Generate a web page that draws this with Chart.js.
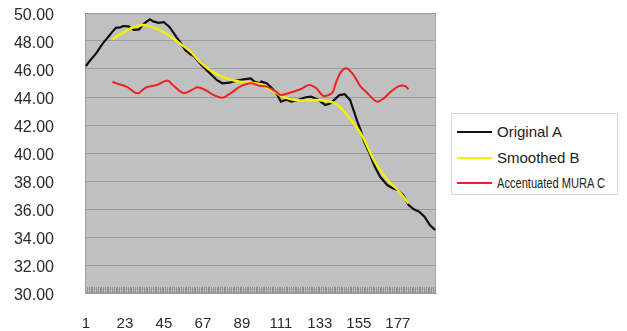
<!DOCTYPE html>
<html>
<head>
<meta charset="utf-8">
<script src="https://cdn.jsdelivr.net/npm/chart.js@4.4.1/dist/chart.umd.min.js"></script>
<style>
  body { margin: 0; background: #fff; }
  #wrap { position: relative; width: 627px; height: 331px; }
  #legend {
    position: absolute; left: 451px; top: 113px; width: 165px; height: 80px;
    border: 1px solid #d6d6d6; background: #fff;
    font-family: "Liberation Sans", Arial, sans-serif; color: #222;
  }
  .row { position: absolute; left: 0; width: 165px; height: 20px; white-space: nowrap; }
  .swatch { position: absolute; left: 5px; top: 9px; width: 35px; height: 2px; }
  .txt { position: absolute; left: 45px; top: 0; font-size: 15px; line-height: 20px; transform-origin: 0 50%; }
</style>
</head>
<body>
<div id="wrap">
  <canvas id="myChart" width="627" height="331"></canvas>
  <div id="legend"></div>
</div>
<script>
// x tick labels shown under the axis
const xLabels = [1, 23, 45, 67, 89, 111, 133, 155, 177];
const xCount = 198;

// Original A (category, value)
const originalX = [1, 3, 5, 7, 9, 11, 13, 16, 18, 20, 22, 25, 28, 31, 34, 37, 39, 42, 45, 48,
  50, 52, 54, 57, 60, 62, 64, 66, 68, 71, 75, 78, 82, 86, 90, 94, 96, 99, 100, 103,
  106, 109, 111, 114, 117, 121, 125, 128, 132, 136, 139, 142, 144, 147, 150, 152, 154, 156, 158, 161,
  164, 167, 171, 174, 177, 180, 183, 186, 189, 192, 195, 198];
const originalY = [46.2, 46.55, 46.85, 47.15, 47.55, 47.9, 48.2, 48.67, 48.95, 48.95, 49.07, 49.05, 48.8, 48.83, 49.26, 49.55, 49.4, 49.3, 49.35, 49.02,
  48.67, 48.3, 47.95, 47.36, 47.05, 46.9, 46.6, 46.3, 46.05, 45.69, 45.2, 44.98, 45.02, 45.17, 45.26, 45.33, 45.1, 44.98, 45.1, 44.98,
  44.62, 44.14, 43.67, 43.8, 43.67, 43.8, 43.98, 44.02, 43.8, 43.43, 43.55, 43.9, 44.14, 44.2, 43.79, 43.07, 42.3, 41.64, 40.8, 39.98,
  39.02, 38.3, 37.71, 37.48, 37.36, 37.0, 36.29, 35.98, 35.81, 35.45, 34.86, 34.5];

// Smoothed B
const smoothedX = [16, 19, 24, 28, 34, 38, 42, 47, 50, 54, 60, 65, 71, 77, 82, 88, 94, 99, 102, 108,
  113, 119, 125, 130, 136, 141, 146, 152, 157, 163, 167, 172, 177, 183];
const smoothedY = [48.12, 48.38, 48.74, 49.0, 49.14, 49.02, 48.8, 48.5, 48.19, 47.83, 47.24, 46.55, 45.93, 45.5, 45.26, 45.1, 45.02, 44.93, 44.74, 44.31,
  43.98, 43.79, 43.74, 43.79, 43.72, 43.58, 43.05, 42.12, 41.2, 39.6, 38.79, 37.95, 37.36, 36.4];

// Accentuated MURA C
const muraX = [16, 18, 24, 30, 35, 41, 47, 50, 56, 60, 64, 69, 73, 78, 82, 88, 94, 99, 103, 108,
  111, 116, 122, 127, 131, 135, 140, 142, 145, 148, 152, 156, 159, 165, 169, 172, 177, 181, 183];
const muraY = [45.1, 44.98, 44.74, 44.26, 44.69, 44.86, 45.17, 44.86, 44.28, 44.45, 44.69, 44.45, 44.14, 43.95, 44.21, 44.74, 44.98, 44.8, 44.74, 44.4,
  44.14, 44.3, 44.55, 44.86, 44.62, 44.08, 44.3, 45.0, 45.81, 46.05, 45.57, 44.74, 44.38, 43.67, 43.9, 44.26, 44.74, 44.79, 44.55];

function points(xs, ys) {
  return xs.map((x, i) => ({ x: x, y: ys[i] }));
}

const fontFamily = "'Liberation Sans', Arial, sans-serif";

const plotBackground = {
  id: "plotBackground",
  beforeDraw(chart) {
    const { ctx, chartArea: a } = chart;
    ctx.save();
    ctx.fillStyle = "#c0c0c0";
    ctx.fillRect(a.left, a.top, a.width, a.height);
    ctx.strokeStyle = "#a9a9a9";
    ctx.lineWidth = 1;
    ctx.strokeRect(a.left + 0.5, a.top + 0.5, a.width - 1, a.height - 1);
    ctx.restore();
  },
};

const htmlLegend = {
  id: "htmlLegend",
  afterUpdate(chart) {
    const box = document.getElementById("legend");
    box.innerHTML = "";
    const tops = [8, 34, 59];
    chart.data.datasets.forEach((ds, i) => {
      const row = document.createElement("div");
      row.className = "row";
      row.style.top = tops[i] + "px";
      const sw = document.createElement("div");
      sw.className = "swatch";
      sw.style.background = ds.borderColor;
      const txt = document.createElement("div");
      txt.className = "txt";
      txt.textContent = ds.label;
      if (ds.legendStretch) txt.style.transform = `scaleX(${ds.legendStretch})`;
      row.appendChild(sw);
      row.appendChild(txt);
      box.appendChild(row);
    });
  },
};

new Chart("myChart", {
  type: "line",
  data: {
    datasets: [
      {
        label: "Original A",
        data: points(originalX, originalY),
        borderColor: "#111111",
        borderWidth: 2.2,
        pointRadius: 0,
        tension: 0,
        order: 3,
      },
      {
        label: "Smoothed B",
        data: points(smoothedX, smoothedY),
        borderColor: "#f2f200",
        borderWidth: 2.4,
        pointRadius: 0,
        tension: 0.3,
        order: 2,
      },
      {
        label: "Accentuated MURA C",
        data: points(muraX, muraY),
        borderColor: "#ee2222",
        borderWidth: 2,
        pointRadius: 0,
        tension: 0.3,
        order: 1,
        legendStretch: 0.74,
      },
    ],
  },
  options: {
    responsive: false,
    devicePixelRatio: 1,
    animation: false,
    layout: { padding: { left: 0, right: 191, top: 13, bottom: 0 } },
    plugins: {
      legend: { display: false },
      tooltip: { enabled: false },
    },
    scales: {
      x: {
        type: "linear",
        min: 0.5,
        max: xCount + 0.5,
        afterBuildTicks: (scale) => {
          const ticks = [];
          for (let v = 1; v <= xCount; v++) ticks.push({ value: v });
          scale.ticks = ticks;
        },
        afterFit: (scale) => {
          scale.height = 38;
          scale.paddingLeft = 0;
          scale.paddingRight = 0;
        },
        grid: {
          drawOnChartArea: false,
          drawTicks: true,
          tickLength: -6,
          tickColor: "#8e8e8e",
          lineWidth: 1,
        },
        border: { display: true, color: "#9a9a9a" },
        ticks: {
          autoSkip: false,
          maxRotation: 0,
          minRotation: 0,
          padding: 28,
          color: "#2b2b2b",
          font: { family: fontFamily, size: 15 },
          callback: (v) => (xLabels.includes(v) ? String(v) : ""),
        },
      },
      y: {
        min: 30,
        max: 50,
        afterFit: (scale) => {
          scale.width = 85;
          scale.paddingTop = 0;
          scale.paddingBottom = 0;
        },
        grid: {
          color: "#9c9c9c",
          lineWidth: 1,
          drawTicks: false,
        },
        border: { display: true, color: "#a0a0a0" },
        ticks: {
          stepSize: 2,
          padding: 31,
          labelOffset: 3,
          color: "#2b2b2b",
          font: { family: fontFamily, size: 16 },
          callback: (v) => v.toFixed(2),
        },
      },
    },
  },
  plugins: [plotBackground, htmlLegend],
});
</script>
</body>
</html>
